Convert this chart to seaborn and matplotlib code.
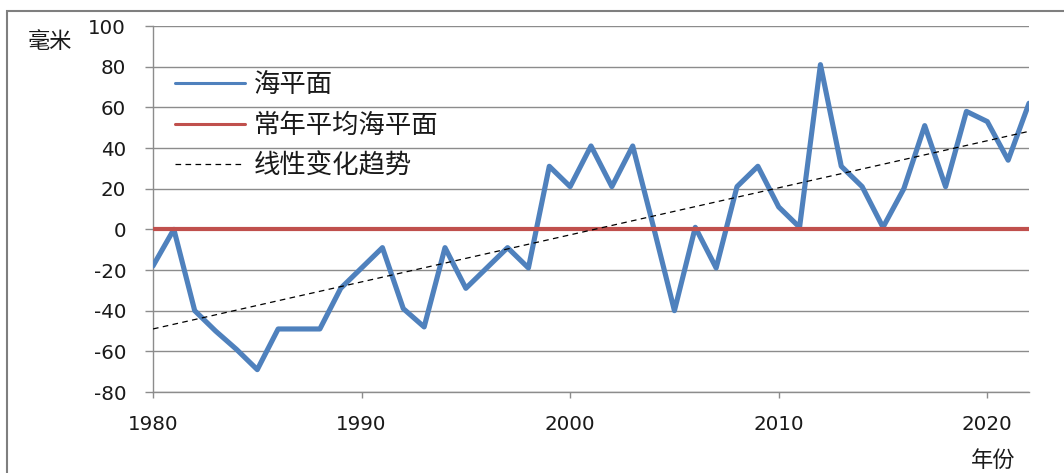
import numpy as np
import pandas as pd
import matplotlib
matplotlib.use("Agg")
import matplotlib.pyplot as plt
from matplotlib.patches import Rectangle
import seaborn as sns

# Annual mean sea level anomaly (mm), 1980-2022
years = list(range(1980, 2023))
sea_level = [-18, 0, -40, -50, -59, -69, -49, -49, -49, -29,
             -19, -9, -39, -48, -9, -29, -19, -9, -19, 31,
             21, 41, 21, 41, 1, -40, 1, -19, 21, 31,
             11, 1, 81, 31, 21, 1, 20, 51, 21, 58,
             53, 34, 62]
mean_level = 0  # long-term average sea level reference

y_ticks = list(range(-80, 101, 20))
x_ticks = [1980, 1990, 2000, 2010, 2020]

label_series = "海平面"
label_mean = "常年平均海平面"
label_trend = "线性变化趋势"
unit_label = "毫米"
year_label = "年份"

df = pd.DataFrame({"year": years, "level": sea_level})
df["mean"] = [mean_level] * len(years)
slope, intercept = np.polyfit(df["year"], df["level"], 1)
df["trend"] = slope * df["year"] + intercept

sns.set_theme(style="white")
plt.rcParams["font.family"] = ["DejaVu Sans", "Noto Sans CJK SC"]
plt.rcParams["axes.unicode_minus"] = False
cjk = ["Noto Sans CJK SC", "DejaVu Sans"]

W, H = 1064, 473
fig = plt.figure(figsize=(W / 100, H / 100), dpi=100)
fig.patch.set_facecolor("white")
ax = fig.add_axes([153 / W, 1 - 392 / H, (1029 - 153) / W, (392 - 26) / H])

blue = "#4F81BD"
red = "#C0504D"
grid_c = "#8c8c8c"

sns.lineplot(data=df, x="year", y="level", ax=ax, color=blue, lw=3.7,
             label=label_series, solid_joinstyle="round", zorder=3)
sns.lineplot(data=df, x="year", y="mean", ax=ax, color=red, lw=3.0,
             label=label_mean, zorder=4)
sns.lineplot(data=df, x="year", y="trend", ax=ax, color="black", lw=0.9,
             linestyle=(0, (4.5, 3.5)), label=label_trend, zorder=5)

ax.set_xlim(1980, 2022)
ax.set_ylim(-80, 100)
ax.set_yticks(y_ticks)
ax.set_xticks(x_ticks)
ax.set_xlabel("")
ax.set_ylabel("")

ax.yaxis.grid(True, color=grid_c, lw=1.0)
ax.xaxis.grid(False)
ax.set_axisbelow(True)
for side in ("top", "right"):
    ax.spines[side].set_visible(False)
for side in ("left", "bottom"):
    ax.spines[side].set_color(grid_c)
    ax.spines[side].set_linewidth(1.0)

ax.tick_params(axis="y", which="major", direction="out", length=5.8,
               width=1.0, color=grid_c, labelsize=14.3, labelcolor="#1a1a1a",
               pad=13.5, left=True)
ax.tick_params(axis="x", which="major", direction="out", length=4.3,
               width=1.0, color=grid_c, labelsize=14.3, labelcolor="#1a1a1a",
               pad=12, bottom=True)

leg = ax.legend(loc="upper left", bbox_to_anchor=(0.025, 0.877),
                frameon=False, handlelength=2.65, handletextpad=0.34,
                labelspacing=0.52, borderpad=0, borderaxespad=0,
                prop={"family": cjk, "size": 19})
for line, lw in zip(leg.get_lines(), (2.2, 2.2, 0.9)):
    line.set_linewidth(lw)
for t in leg.get_texts():
    t.set_color("#1a1a1a")

fig.text(50 / W, 1 - 42 / H, unit_label, ha="center", va="center",
         family=cjk, fontsize=16, color="#1a1a1a")
fig.text(993 / W, 1 - 460 / H, year_label, ha="center", va="center",
         family=cjk, fontsize=16, color="#1a1a1a")

fig.add_artist(Rectangle((7 / W, -0.05), 1.2, 1 - 11 / H + 0.05,
                         transform=fig.transFigure, fill=False,
                         edgecolor="#7f7f7f", lw=1.5, clip_on=False))

fig.savefig("out.png", dpi=100, facecolor="white")
